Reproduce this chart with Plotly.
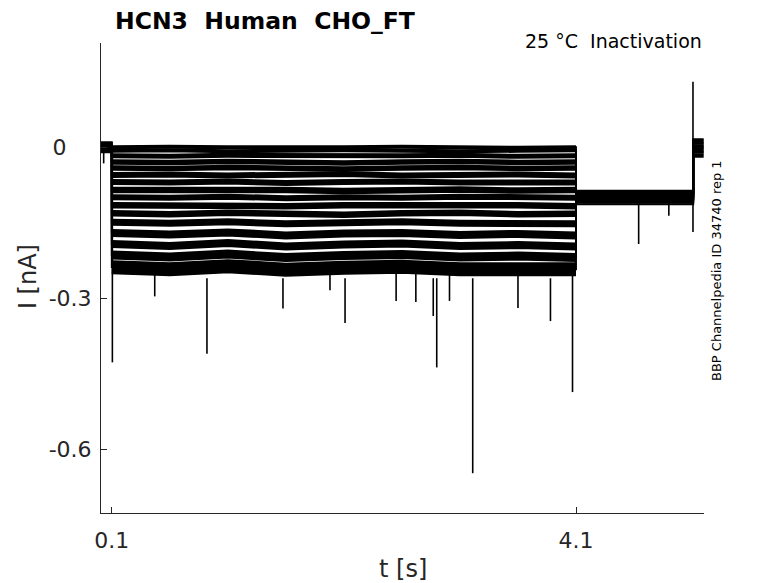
import plotly.graph_objs as go

# protocol times (s)
t_start = 0.007
t_step_on = 0.1
t_step_off = 4.1
t_tail_off = 5.11
t_end = 5.2

# sample times inside the test step
step_t = [0.1, 0.6, 1.1, 1.6, 2.1, 2.6, 3.1, 3.6, 4.1]

# current during the step, one row per sweep (nA)
step_levels = [
    [0.000, 0.001, 0.000, -0.001, 0.000, 0.001, 0.000, -0.001, 0.000],
    [-0.007, -0.006, -0.008, -0.007, -0.006, -0.007, -0.008, -0.007, -0.006],
    [-0.017, -0.018, -0.016, -0.017, -0.018, -0.017, -0.016, -0.018, -0.017],
    [-0.029, -0.030, -0.028, -0.029, -0.031, -0.029, -0.028, -0.030, -0.029],
    [-0.041, -0.042, -0.040, -0.041, -0.043, -0.041, -0.040, -0.042, -0.041],
    [-0.055, -0.054, -0.056, -0.055, -0.053, -0.056, -0.055, -0.054, -0.056],
    [-0.069, -0.070, -0.068, -0.071, -0.069, -0.068, -0.070, -0.069, -0.070],
    [-0.085, -0.084, -0.086, -0.085, -0.087, -0.085, -0.084, -0.086, -0.085],
    [-0.099, -0.100, -0.098, -0.101, -0.099, -0.100, -0.098, -0.099, -0.100],
    [-0.115, -0.116, -0.114, -0.117, -0.115, -0.114, -0.116, -0.115, -0.117],
    [-0.131, -0.133, -0.130, -0.132, -0.134, -0.131, -0.130, -0.133, -0.132],
    [-0.149, -0.151, -0.148, -0.152, -0.150, -0.148, -0.151, -0.150, -0.152],
    [-0.170, -0.173, -0.169, -0.175, -0.171, -0.170, -0.174, -0.172, -0.175],
    [-0.192, -0.196, -0.190, -0.197, -0.193, -0.191, -0.196, -0.194, -0.197],
    [-0.214, -0.218, -0.212, -0.219, -0.215, -0.213, -0.218, -0.216, -0.219],
    [-0.238, -0.242, -0.236, -0.243, -0.239, -0.237, -0.242, -0.240, -0.242],
]

# holding, tail and recovery currents per sweep (nA)
hold_levels = [0.010, 0.008, 0.007, 0.005, 0.004, 0.002, 0.001, 0.000,
               -0.001, -0.002, -0.004, -0.005, -0.006, -0.008, -0.009, -0.010]
tail_levels = [-0.086, -0.088, -0.090, -0.092, -0.094, -0.095, -0.097, -0.098,
               -0.100, -0.101, -0.103, -0.105, -0.106, -0.108, -0.110, -0.113]
final_levels = [0.016, 0.014, 0.011, 0.009, 0.007, 0.004, 0.002, 0.000,
                -0.002, -0.004, -0.007, -0.009, -0.011, -0.014, -0.016, -0.019]

# fast transients (s, start nA, peak nA)
spike_t = [0.03, 0.105, 0.47, 0.92, 1.575, 1.98, 2.11, 2.55, 2.72, 2.87, 2.90,
           3.01, 3.21, 3.60, 3.88, 4.07, 4.64, 4.90, 5.108]
spike_from = [0.0, 0.0, -0.25, -0.26, -0.26, -0.25, -0.26, -0.25, -0.25, -0.26,
              -0.26, -0.25, -0.26, -0.25, -0.26, -0.25, -0.11, -0.11, -0.168]
spike_to = [-0.032, -0.427, -0.296, -0.41, -0.32, -0.284, -0.349, -0.305, -0.307,
            -0.335, -0.437, -0.305, -0.647, -0.319, -0.345, -0.486, -0.192, -0.136, 0.13]

# axis ticks
x_ticks = [0.1, 4.1]
x_ticktext = ['0.1', '4.1']
y_ticks = [-0.6, -0.3, 0]
y_ticktext = ['-0.6', '-0.3', '0\u2007\u2002']

fig = go.Figure()

# step part drawn thick to stand in for the recording noise
widths = [4, 4, 5, 5.5, 5.5, 6, 6, 6.5, 6, 6.5, 6.5, 7, 8, 8, 9, 14]
for k, lev in enumerate(step_levels):
    x = [t_start, t_step_on] + step_t + [t_step_off, t_tail_off, t_tail_off, t_end]
    y = ([hold_levels[k], hold_levels[k]] + lev +
         [tail_levels[k], tail_levels[k], final_levels[k], final_levels[k]])
    fig.add_trace(go.Scatter(x=x, y=y, mode='lines',
                             line=dict(color='black', width=1.9),
                             showlegend=False, hoverinfo='skip'))
    fig.add_trace(go.Scatter(x=step_t, y=lev, mode='lines',
                             line=dict(color='black', width=widths[k]),
                             showlegend=False, hoverinfo='skip'))

sx, sy = [], []
for t, a, b in zip(spike_t, spike_from, spike_to):
    sx += [t, t, None]
    sy += [a, b, None]
fig.add_trace(go.Scatter(x=sx, y=sy, mode='lines',
                         line=dict(color='black', width=1.6),
                         showlegend=False, hoverinfo='skip'))

axis_col = '#262626'
# page body adds 8px, so the figure is 8px smaller and shifted back
fig.update_layout(
    width=770, height=575,
    margin=dict(l=93, r=74, t=35, b=70),
    plot_bgcolor='white', paper_bgcolor='white',
    font=dict(family='DejaVu Sans', color=axis_col),
    title=dict(text='<b>HCN3  Human  CHO_FT</b>', x=107 / 770, xanchor='left',
               y=1 - 13 / 575, yanchor='middle',
               font=dict(size=23.5, color='black', family='DejaVu Sans')),
    xaxis=dict(range=[0.007, 5.203], tickvals=x_ticks, ticktext=x_ticktext,
               ticks='inside', ticklen=6, tickcolor=axis_col,
               showline=True, linecolor=axis_col, linewidth=1,
               showgrid=False, zeroline=False, tickfont=dict(size=22),
               ticklabelstandoff=8),
    yaxis=dict(range=[-0.726, 0.207], tickvals=y_ticks, ticktext=y_ticktext,
               ticks='inside', ticklen=6, tickcolor=axis_col,
               showline=True, linecolor=axis_col, linewidth=1,
               showgrid=False, zeroline=False, tickfont=dict(size=22),
               ticklabelstandoff=4),
    annotations=[
        dict(text='t [s]', xref='paper', yref='paper', x=0.5, y=-0.119,
             showarrow=False, font=dict(size=24), xanchor='center', yanchor='middle'),
        dict(text='I [nA]', xref='paper', yref='paper', x=-0.121, y=0.502,
             showarrow=False, font=dict(size=24), textangle=-90,
             xanchor='center', yanchor='middle'),
        dict(text='25 °C  Inactivation', xref='paper', yref='paper', x=1.0, y=1.004,
             showarrow=False, font=dict(size=19, color='black'),
             xanchor='right', yanchor='middle'),
        dict(text='BBP Channelpedia ID 34740 rep 1', xref='paper', yref='paper',
             x=1.0216, y=0.515, showarrow=False, font=dict(size=13, color='black'),
             textangle=-90, xanchor='center', yanchor='middle'),
    ],
)

fig.write_html("out.html")
